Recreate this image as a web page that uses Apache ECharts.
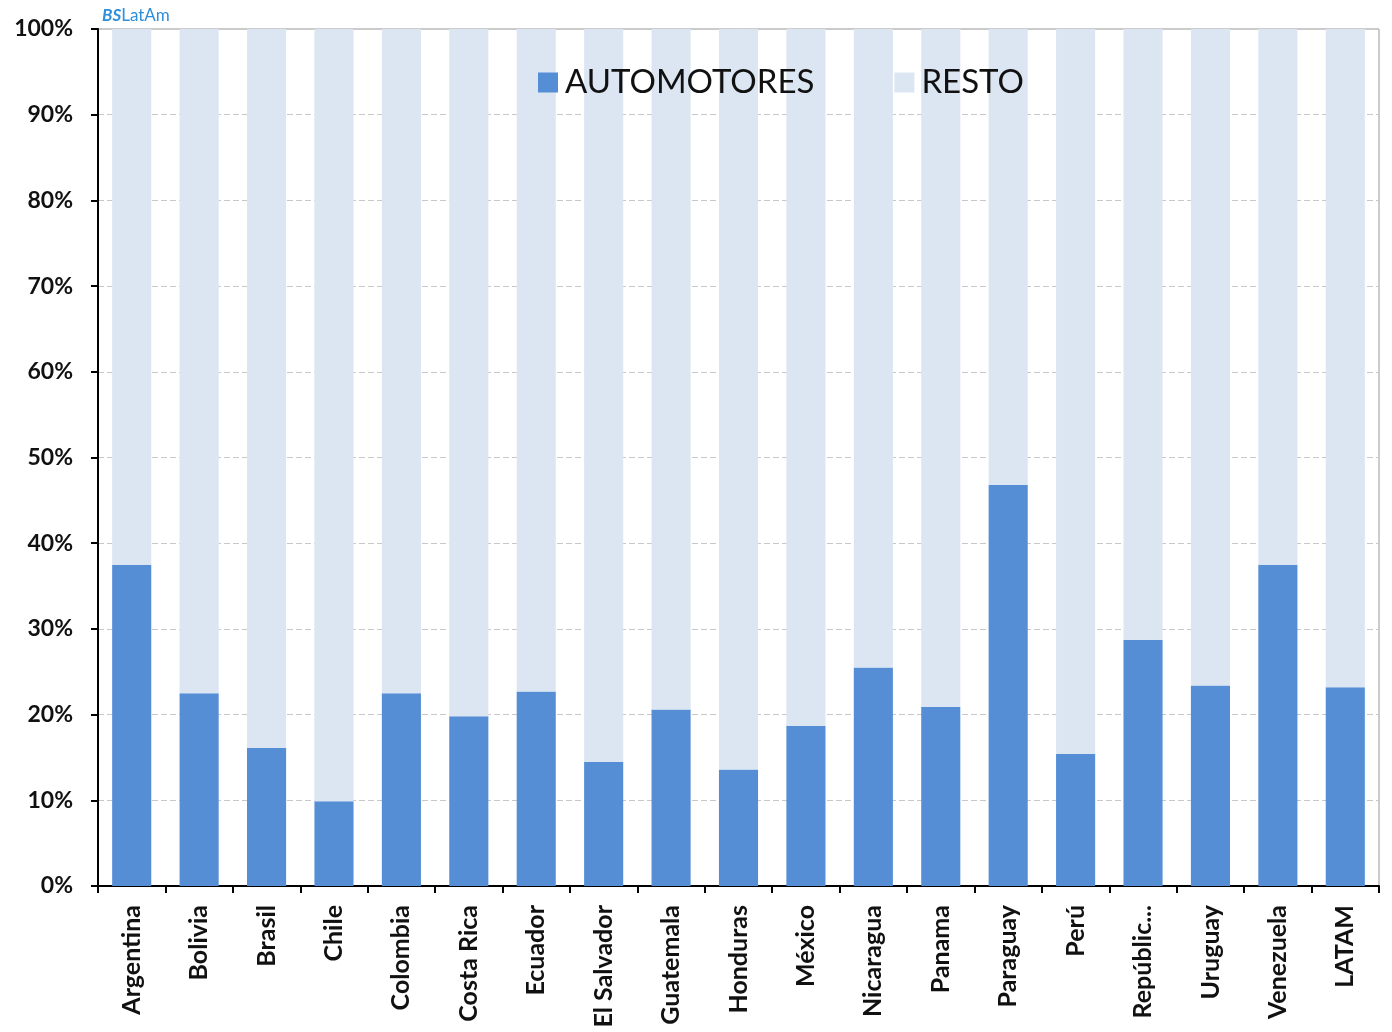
<!DOCTYPE html>
<html>
<head>
<meta charset="utf-8">
<script src="https://cdn.jsdelivr.net/npm/echarts@6/dist/echarts.min.js"></script>
<style>html,body{margin:0;padding:0;background:#fff}#c{width:1392px;height:1032px}</style>
</head>
<body>
<div id="c"></div>
<script>
const categories = ['Argentina','Bolivia','Brasil','Chile','Colombia','Costa Rica','Ecuador','El Salvador','Guatemala','Honduras','México','Nicaragua','Panama','Paraguay','Perú','República Dominicana','Uruguay','Venezuela','LATAM'];
const automotores = [37.5,22.5,16.1,9.9,22.5,19.8,22.7,14.5,20.6,13.6,18.7,25.5,20.9,46.8,15.4,28.7,23.4,37.5,23.2];
const resto = [62.5,77.5,83.9,90.1,77.5,80.2,77.3,85.5,79.4,86.4,81.3,74.5,79.1,53.2,84.6,71.3,76.6,62.5,76.8];
const seriesNames = ['AUTOMOTORES','RESTO'];

const chart = echarts.init(document.getElementById('c'), null, {renderer:'canvas'});
const FONT = 'Lato';
chart.setOption({
  animation:false,
  backgroundColor:'#ffffff',
  graphic:[{
    type:'text', left:102, top:7,
    style:{
      text:'{a|BS}{b|LatAm}',
      rich:{
        a:{fontFamily:FONT, fontSize:17, fontWeight:'bold', fontStyle:'italic', fill:'#2E8FDA'},
        b:{fontFamily:FONT, fontSize:17, fill:'#2E8FDA'}
      }
    }
  }],
  legend:{
    data:seriesNames,
    left:533, top:61,
    itemWidth:20, itemHeight:20, itemGap:80,
    icon:'rect',
    textStyle:{fontFamily:FONT, fontSize:33, color:'#111', padding:[0,0,0,2]}
  },
  grid:{left:98, right:13, top:29, bottom:146, show:true, borderColor:'#999', borderWidth:1},
  xAxis:{
    type:'category', data:categories,
    axisLine:{show:true, lineStyle:{color:'#000', width:2}},
    axisTick:{show:true, alignWithLabel:false, length:7, lineStyle:{color:'#000', width:2}},
    axisLabel:{interval:0, rotate:90, margin:19, fontFamily:FONT, fontWeight:'bold', fontSize:25, color:'#111',
      formatter: v => v.length > 12 ? v.slice(0, 8) + '...' : v}
  },
  yAxis:{
    type:'value', min:0, max:100, interval:10,
    axisLine:{show:true, lineStyle:{color:'#000', width:2}},
    axisTick:{show:true, length:7, lineStyle:{color:'#000', width:2}},
    axisLabel:{formatter:'{value}%', margin:25, fontFamily:FONT, fontWeight:'bold', fontSize:23, color:'#111'},
    splitLine:{show:true, lineStyle:{color:'#c8c8c8', type:[6,3], width:1}}
  },
  series:[
    {name:seriesNames[0], type:'bar', stack:'t', data:automotores, barCategoryGap:'42%', itemStyle:{color:'#558ED5'}},
    {name:seriesNames[1], type:'bar', stack:'t', data:resto, barCategoryGap:'42%', itemStyle:{color:'#DCE6F2'}}
  ]
});
</script>
</body>
</html>
